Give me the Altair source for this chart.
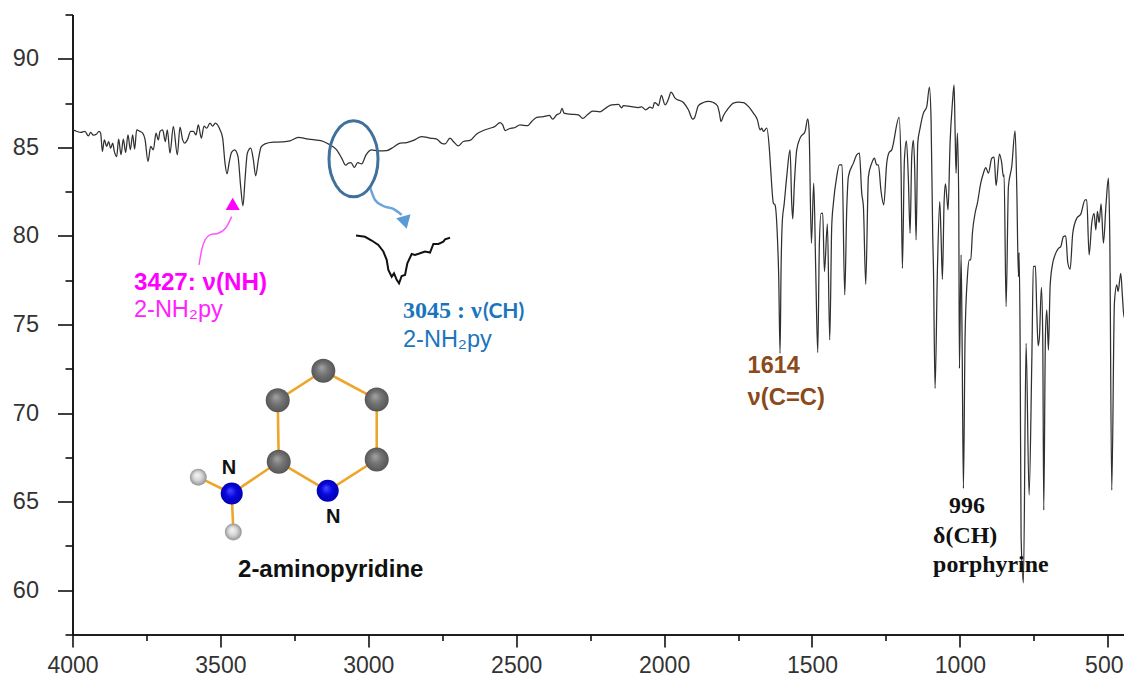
import altair as alt
import pandas as pd

# IR spectrum
WN = [4000,3986,3972,3958,3946.5,3938.6,3929.6,3918.3,3910.4,3904.8,3899,3892.4,3884.5,3877.8,3871,3864.2,3858.6,3850.7,3844,3836,3828.2,3820.3,3812.4,3804.5,3796.6,3789.9,3783.1,3771.8,3762.8,3754.9,3744.8,3735.8,3726.7,3717.7,3709.8,3704.2,3695.2,3686.2,3679.4,3670.4,3659.1,3645.6,3636.6,3627.6,3620.8,3611.8,3600.5,3591.5,3582.5,3574.6,3564.5,3555.4,3546.4,3535.2,3526.1,3517.1,3501.3,3492.3,3484.4,3477.7,3469.8,3461.9,3451.8,3440.5,3431.5,3423.6,3416.8,3408.9,3397.6,3388.6,3380.8,3371.7,3362.7,3349.2,3321,3292.8,3264.7,3236.5,3208.3,3180.2,3152,3129.4,3106.9,3090,3076.5,3067.4,3058.4,3047.2,3035.9,3022.4,3007.7,2988.5,2966,2937.8,2915.3,2892.7,2870.2,2847.6,2819.5,2791.3,2768.7,2751.8,2740.6,2723.7,2712.4,2695.5,2678.6,2656,2633.5,2611,2588.4,2571.6,2554.6,2545.6,2537.7,2523,2503.9,2487,2462.2,2447.5,2430.6,2408,2387.8,2376.5,2363,2351.7,2345,2338.2,2317.9,2289.8,2275.1,2259.3,2241.3,2216.5,2196.2,2177,2154.5,2143.2,2137.6,2115,2086.9,2075.6,2062.1,2047.5,2038.4,2032.8,2024.9,2019.3,2009.1,1996.7,1985.5,1976.4,1962.9,1934.7,1917.9,1903,1897.6,1884,1867.1,1850.2,1833.3,1819.8,1813,1807.4,1799.5,1782.6,1765.7,1748.8,1731.9,1715,1698.1,1684.6,1675.6,1670,1664.3,1653,1643.9,1639.5,1630.5,1624.9,1617,1612.5,1608,1604.6,1600.1,1594.4,1585.4,1574.2,1568.5,1565.1,1559.5,1551.6,1540.3,1523.4,1514.4,1509.9,1502,1494.1,1487.4,1480.6,1475,1469.3,1463.7,1458,1447.9,1440,1433.3,1427.6,1416.4,1407.4,1398.3,1389.3,1382.6,1376.9,1360,1348.8,1339.7,1331.8,1326.2,1318.3,1309.3,1298,1289,1281.1,1275.5,1266.5,1257.5,1247.3,1239.4,1230.4,1205.6,1198.9,1194.4,1187.6,1180.8,1174.1,1168.4,1162.8,1157.2,1152.7,1148.1,1142.5,1134.6,1123.4,1112,1103.1,1097.4,1091.8,1089.5,1083.9,1076,1068.1,1063.6,1059.1,1053.5,1048.9,1044.4,1039.9,1033.2,1025.3,1019.6,1016.3,1012.9,1008.4,1003.9,1001.6,996,992.6,988.1,982.5,974.6,967.8,963.3,957.7,948.6,940.8,929.5,920.5,912.6,903.6,892.3,884.4,877.6,866.4,858.5,852.9,850.6,843.8,835.9,824.7,813.4,807.8,802.1,799.9,796.5,793.1,785.2,776.2,766,757,751.4,744.7,740.2,735.6,731.1,724.4,719.9,716.5,710.9,706.3,700.7,695,687.2,678.2,666.9,659,650,642.1,635.3,627.4,618.4,604.9,591.4,576.7,571.1,563.2,554.2,546.3,540.7,535,529.4,522.6,514.8,505.7,497.9,493.3,486.6,477.6,469.7,465.2,456.1,450.5,444.9,438.1,430.2,424.6,418]
TR = [85.99,85.91,85.84,85.9,85.65,85.84,85.69,85.76,85.9,85.8,84.77,85.42,85.05,85.33,84.95,85.24,84.77,84.48,85.46,84.58,85.46,84.71,85.71,84.86,85.71,84.9,85.99,85.9,85.8,85.46,84.2,85.05,84.86,85.8,85.42,85.9,85.99,85.33,85.99,84.67,86.18,84.58,86.14,85.42,85.24,85.42,85.9,85.9,85.71,86.27,85.52,86.2,86.08,86.37,86.2,86.37,85.99,85.52,84.11,83.5,84.2,84.73,84.86,84.48,82.79,81.7,83.17,84.67,84.95,84.3,83.39,84.3,85.01,85.2,85.29,85.31,85.37,85.56,85.48,85.42,85.33,85.14,84.86,84.39,83.99,84.11,84.14,83.86,84.14,84.07,84.58,84.86,84.8,84.82,85.01,85.24,85.27,85.39,85.61,85.52,85.46,85.23,85.2,85.52,85.33,85.08,85.33,85.39,85.76,85.95,86.08,86.18,86.4,86.27,85.95,86.05,86.12,86.27,86.22,86.46,86.69,86.74,86.8,86.59,86.84,86.93,87.2,86.93,86.87,86.84,86.63,86.84,87.04,87.01,87.23,87.4,87.42,87.23,87.35,87.31,87.25,87.29,87.12,87.27,87.21,87.53,87.46,87.35,87.93,87.4,87.72,88.12,87.78,87.53,87.12,86.59,86.65,87.35,87.53,87.59,87.53,87.35,86.93,86.46,86.78,87.21,87.5,87.55,87.53,87.31,86.93,86.55,85.99,86.08,85.9,86.08,84.86,83.73,81.85,81.75,79.96,77.7,73.37,78.08,80.9,81.75,83.35,84.86,81.85,80.96,82.98,84.86,85.52,85.9,86.61,85.99,79.59,82.98,78.08,73.41,79.59,81.28,81.28,77.99,80.68,74.13,80.53,81.85,83.35,84.01,84.01,76.67,81.47,83.35,84.11,84.58,84.67,82.41,81.66,77.27,83.35,84.11,84.39,84.01,84.01,82.51,81.75,84.11,84.71,84.86,86.69,83.73,78.17,84.3,85.37,83.17,80.15,84.48,85.39,83.73,79.78,85.24,86.08,86.93,87.3,88.4,86.55,79.96,78.27,71.4,78.08,81.94,79.96,77.55,81.85,82.94,82.22,81.47,85.24,87.5,88.53,85.99,83.54,85.8,81.85,72.52,78.93,74.3,65.75,74.3,77.7,78.65,78.65,80.15,81.28,81.85,82.98,83.54,83.86,83.54,84.39,84.45,82.84,84.62,84.11,83.35,83.45,76.01,82.79,83.92,85.93,82.79,77.7,79.06,74.3,63.02,60.42,73.94,65.37,72.8,78.27,78.3,75.82,73.8,74.3,77.1,74.3,64.52,74.3,75.82,73.56,77.14,78.37,78.93,79.3,79.4,79.96,80,78.5,78.12,80.15,81,81.23,82.04,82.04,78.93,80.72,81.28,80.34,81.38,80.75,81.81,79.59,81.85,83.26,79.96,65.65,76.2,77.23,76.86,77.89,76.58,75.4,77.33,78.08,78.65,78.27]

INSET_WN = [3041.5,3011,2988.5,2966,2949.1,2937.8,2932.2,2920.9,2913,2904,2896.1,2887.1,2875.8,2868,2853.3,2842,2825.1,2808.2,2791.3,2780,2763.1,2746.3,2740.6,2723.7]
INSET_TR = [80.02,79.95,79.74,79.49,79.12,78.65,78.08,77.7,77.89,77.52,77.33,77.74,77.8,78.46,78.98,78.93,79.02,79.12,79.06,79.55,79.55,79.68,79.81,79.9]

PINK_WN = [3572.3,3563.2,3552,3535.1,3507.1,3478.7,3461.7]
PINK_TR = [78.36,79.21,79.77,80.06,80.15,80.53,81.09]
BLUE_WN = [2994.2,2977.2,2949.2,2915.4,2887]
BLUE_TR = [82.75,82.03,81.69,81.53,81.19]

ATOM_NAMES = ["C1","C2","C3","C4","C5","N1","N2","H1","H2"]
ATOM_WN = [3152,3306.2,2971.5,3302.8,2971.5,3461.7,3137.2,3574.7,3456.3]
ATOM_TR = [72.39,70.73,70.77,67.25,67.38,65.46,65.61,66.38,63.28]
BONDS = [("C1","C2"),("C1","C3"),("C2","C4"),("C3","C5"),("C4","N2"),("C5","N2"),("C4","N1"),("N1","H1"),("N1","H2")]

LABELS = [
    ("3427: ν(NH)", 3792.1, 76.95, "#ff00ff", "Liberation Sans", "bold", 24.2),
    ("2-NH₂py", 3792.1, 75.42, "#ff22ff", "Liberation Sans", "normal", 23.5),
    ("3045 : ν", 2882.6, 75.37, "#1b75bc", "Liberation Serif", "bold", 24),
    ("(CH)", 2612.1, 75.37, "#1b75bc", "Lato", "bold", 21),
    ("2-NH₂py", 2882.6, 73.73, "#1b75bc", "Liberation Sans", "normal", 23.5),
    ("1614", 1717.8, 72.26, "#8c4a1a", "Liberation Sans", "bold", 23.5),
    ("ν(C=C)", 1717.8, 70.45, "#8c4a1a", "Liberation Sans", "bold", 23.8),
    ("996", 1036.6, 64.35, "#111111", "Liberation Serif", "bold", 23.9),
    ("δ(CH)", 1090.6, 62.66, "#111111", "Liberation Serif", "bold", 23.9),
    ("porphyrine", 1090.6, 61.05, "#111111", "Liberation Serif", "bold", 23.9),
    ("2-aminopyridine", 3440.4, 60.75, "#111111", "Liberation Sans", "bold", 24),
    ("N", 3495.6, 66.55, "#111111", "Liberation Sans", "bold", 20),
    ("N", 3143, 63.8, "#111111", "Liberation Sans", "bold", 20),
]

X_MAJOR = [4000,3500,3000,2500,2000,1500,1000,500]
X_MINOR = [3750,3250,2750,2250,1750,1250,750]
Y_MAJOR = [60,65,70,75,80,85,90]
Y_MINOR = [57.5,62.5,67.5,72.5,77.5,82.5,87.5,92.5]

xs = alt.Scale(domain=[4000,445.2], nice=False, zero=False)
ys = alt.Scale(domain=[57.5,92.5], nice=False, zero=False)

def X(axis=None, f="wn"):
    return alt.X(f"{f}:Q", scale=xs, axis=axis, title=None)
def Y(axis=None, f="t"):
    return alt.Y(f"{f}:Q", scale=ys, axis=axis, title=None)

common = dict(domainColor="#111111", tickColor="#111111", domainWidth=1.6, tickWidth=1.6, title=None, grid=False)
x_major = alt.Axis(orient="bottom", values=X_MAJOR, tickSize=12.5, labelFontSize=23, labelFont="Liberation Sans",
                   labelColor="#333333", labelPadding=7.5, labelOverlap=False, labelFlush=False, format="d",
                   labelOffset=alt.ConditionalAxisNumber(condition={"test": "datum.value === 500", "value": -4}, value=0),
                   **common)
y_major = alt.Axis(orient="left", values=Y_MAJOR, tickSize=15, labelFontSize=23.5, labelFont="Liberation Sans",
                   labelColor="#333333", labelPadding=19, labelOverlap=False, format="d", **common)
x_minor = alt.Axis(orient="bottom", values=X_MINOR, tickSize=6, labels=False, **common)
y_minor = alt.Axis(orient="left", values=Y_MINOR, tickSize=7.5, labels=False, **common)

spec = pd.DataFrame({"wn": WN, "t": TR})
axis_major = alt.Chart(spec).mark_line(opacity=0, clip=True).encode(x=X(x_major), y=Y(y_major))
axis_minor = alt.Chart(spec).mark_line(opacity=0, clip=True).encode(x=X(x_minor), y=Y(y_minor))
line = alt.Chart(spec).mark_line(color="#303030", strokeWidth=1.25, clip=True, interpolate="monotone").encode(x=X(), y=Y())

inset = alt.Chart(pd.DataFrame({"wn": INSET_WN, "t": INSET_TR})).mark_line(color="#111111", strokeWidth=2).encode(x=X(), y=Y())

pink = alt.Chart(pd.DataFrame({"wn": PINK_WN, "t": PINK_TR})).mark_line(color="#ff55ff", strokeWidth=1.5, interpolate="monotone").encode(x=X(), y=Y())
pink_head = alt.Chart(pd.DataFrame({"wn": [3458.4], "t": [81.81]})).mark_point(shape="triangle-up", filled=True, color="#ff00ff", opacity=1, size=200).encode(x=X(), y=Y())
blue = alt.Chart(pd.DataFrame({"wn": BLUE_WN, "t": BLUE_TR})).mark_line(color="#6aa5dc", strokeWidth=2.5, interpolate="monotone").encode(x=X(), y=Y())
blue_head = alt.Chart(pd.DataFrame({"wn": [2875.8], "t": [80.76]})).mark_point(shape="triangle-up", filled=True, color="#5b9bd5", opacity=1, size=220, angle=165).encode(x=X(), y=Y())

ellipse = alt.Chart(pd.DataFrame({"wn": [3050], "t": [84.35]})).mark_point(
    shape="M-0.645,0A0.645,1,0,1,1,0.645,0A0.645,1,0,1,1,-0.645,0Z",
    filled=False, color="#40709c", strokeWidth=3, opacity=1, size=5776).encode(x=X(), y=Y())

pos = {n: (a, b) for n, a, b in zip(ATOM_NAMES, ATOM_WN, ATOM_TR)}
bond_df = pd.DataFrame([{"wn": pos[a][0], "t": pos[a][1], "wn2": pos[b][0], "t2": pos[b][1]} for a, b in BONDS])
bonds = alt.Chart(bond_df).mark_rule(color="#eda62a", strokeWidth=2.6).encode(
    x=X(), y=Y(), x2="wn2:Q", y2="t2:Q")

def grad(light, mid, dark):
    return {"gradient": "radial", "x1": 0.42, "y1": 0.36, "r1": 0, "x2": 0.5, "y2": 0.5, "r2": 0.5,
            "stops": [{"offset": 0, "color": light}, {"offset": 0.5, "color": mid}, {"offset": 1, "color": dark}]}

atoms = pd.DataFrame({"n": ATOM_NAMES, "wn": ATOM_WN, "t": ATOM_TR})
def atom_layer(prefix, size, fill):
    d = atoms[atoms.n.str.startswith(prefix)]
    return alt.Chart(d).mark_point(shape="circle", filled=True, fill=fill, stroke=None, opacity=1, size=size).encode(x=X(), y=Y())

c_atoms = atom_layer("C", 576, grad("#a4a4a4", "#747474", "#565656"))
n_atoms = atom_layer("N", 484, grad("#4a4aff", "#0808e0", "#0000b0"))
h_atoms = atom_layer("H", 289, grad("#f6f6f6", "#d8d8d8", "#949494"))

texts = []
for txt, wn, t, col, font, weight, size in LABELS:
    d = pd.DataFrame({"wn": [wn], "t": [t], "s": [txt]})
    texts.append(alt.Chart(d).mark_text(align="left", baseline="alphabetic", color=col, font=font,
                                        fontWeight=weight, fontSize=size).encode(x=X(), y=Y(), text="s:N"))

chart = alt.layer(axis_minor, axis_major, line, inset, pink, pink_head, blue, blue_head, ellipse,
                  bonds, c_atoms, n_atoms, h_atoms, *texts).resolve_axis(x="independent", y="independent").properties(
    width=1051.5, height=620,
    padding={"left": 64.5, "top": 6.5, "right": 0, "bottom": 46},
    autosize=alt.AutoSizeParams(type="none"),
).configure_view(stroke=None)

chart.save("out.html", embed_options={"renderer": "svg", "actions": False})
